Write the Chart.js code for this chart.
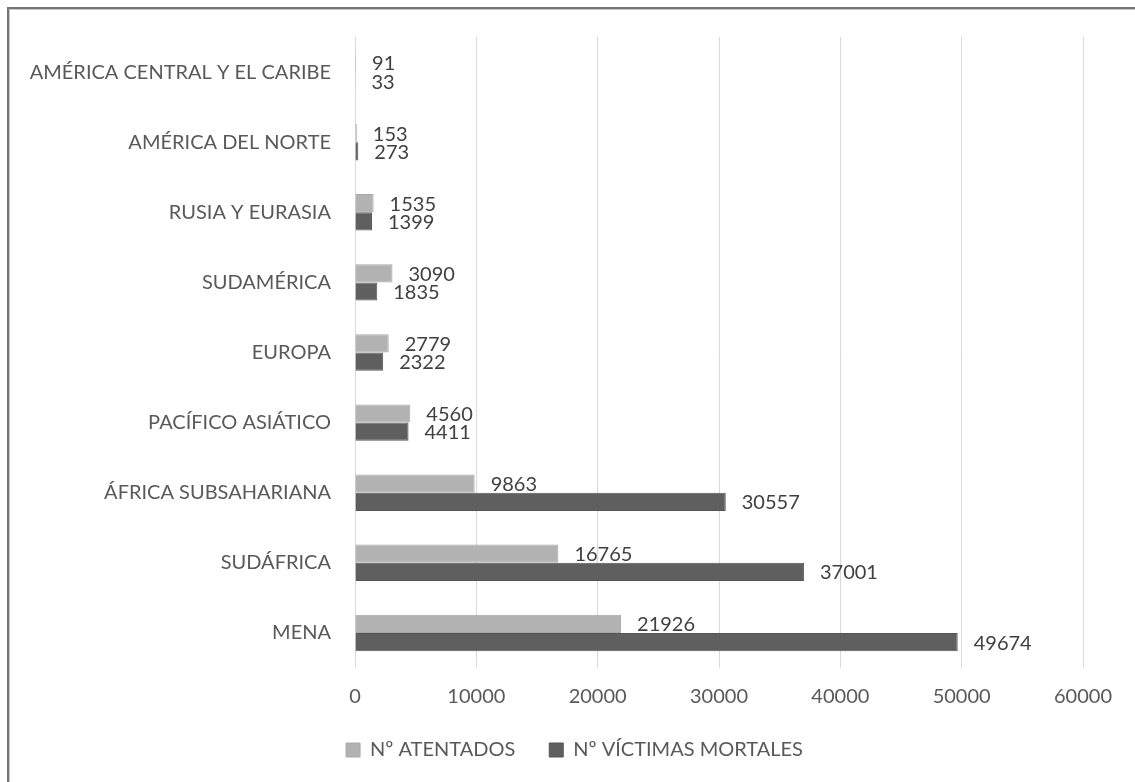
<!DOCTYPE html>
<html>
<head>
<meta charset="utf-8">
<script src="https://cdn.jsdelivr.net/npm/chart.js@4.4.1/dist/chart.umd.min.js"></script>
<style>
  html, body { margin: 0; padding: 0; background: #ffffff; }
  #wrap { position: relative; width: 1135px; height: 782px; overflow: hidden; }
  #frame {
    position: absolute; left: 7px; top: 7px; width: 1200px; height: 900px;
    border: 2px solid #767676; box-shadow: inset 1px 1px 0 #c8c8c8;
    pointer-events: none;
  }
  canvas { position: absolute; left: 0; top: 0; }
</style>
</head>
<body>
<div id="wrap">
  <canvas id="chart" width="1135" height="782"></canvas>
  <div id="frame"></div>
</div>
<script>
const regions = [
  "AMÉRICA CENTRAL Y EL CARIBE",
  "AMÉRICA DEL NORTE",
  "RUSIA Y EURASIA",
  "SUDAMÉRICA",
  "EUROPA",
  "PACÍFICO ASIÁTICO",
  "ÁFRICA SUBSAHARIANA",
  "SUDÁFRICA",
  "MENA",
];
const atentados = [91, 153, 1535, 3090, 2779, 4560, 9863, 16765, 21926];
const victimas = [33, 273, 1399, 1835, 2322, 4411, 30557, 37001, 49674];
const xTicks = [0, 10000, 20000, 30000, 40000, 50000, 60000];

const FONT = "Lato, 'Open Sans', sans-serif";

// value labels at the end of each bar
const barLabels = {
  id: "barLabels",
  afterDatasetsDraw(chart) {
    const ctx = chart.ctx;
    ctx.save();
    ctx.font = "20px " + FONT;
    ctx.fillStyle = "#404040";
    ctx.textAlign = "left";
    ctx.textBaseline = "middle";
    chart.data.datasets.forEach((ds, i) => {
      const meta = chart.getDatasetMeta(i);
      meta.data.forEach((bar, j) => {
        ctx.fillText(String(ds.data[j]), bar.x + 16, bar.y + 1);
      });
    });
    ctx.restore();
  },
};

// the right padding pulls the legend left, push it back to the middle
const legendShift = {
  id: "legendShift",
  afterLayout(chart) {
    const lg = chart.legend;
    if (!lg) return;
    lg.left += 33;
    lg.right += 33;
  },
};

new Chart(document.getElementById("chart").getContext("2d"), {
  type: "bar",
  data: {
    labels: regions,
    datasets: [
      {
        label: "Nº ATENTADOS",
        data: atentados,
        backgroundColor: "#b2b2b2",
        borderColor: "#a8a8a8",
        borderWidth: 1,
      },
      {
        label: "Nº VÍCTIMAS MORTALES",
        data: victimas,
        backgroundColor: "#5f5f5f",
        borderColor: "#555555",
        borderWidth: 1,
      },
    ],
  },
  options: {
    indexAxis: "y",
    responsive: false,
    animation: false,
    maintainAspectRatio: false,
    categoryPercentage: 0.52,
    barPercentage: 1.0,
    layout: {
      padding: { top: 37, right: 52, left: 0, bottom: 12 },
    },
    scales: {
      x: {
        min: 0,
        max: 60000,
        afterBuildTicks: (scale) => {
          scale.ticks = xTicks.map((v) => ({ value: v }));
        },
        afterFit: (scale) => {
          scale.height = 38;
        },
        ticks: {
          padding: 17,
          callback: (value) => String(value),
          font: { size: 20, family: FONT },
          color: "#595959",
        },
        grid: {
          color: "#d9d9d9",
          lineWidth: 1,
          drawTicks: false,
        },
        border: { display: false },
      },
      y: {
        afterFit: (scale) => {
          scale.width = 355;
        },
        ticks: {
          padding: 24,
          font: { size: 20, family: FONT },
          color: "#595959",
        },
        grid: { display: false, drawTicks: false },
        border: { display: false },
      },
    },
    plugins: {
      legend: {
        position: "bottom",
        labels: {
          boxWidth: 14,
          boxHeight: 14,
          padding: 34,
          color: "#595959",
          font: { size: 20, family: FONT },
        },
      },
      tooltip: { enabled: false },
    },
  },
  plugins: [barLabels, legendShift],
});
</script>
</body>
</html>
